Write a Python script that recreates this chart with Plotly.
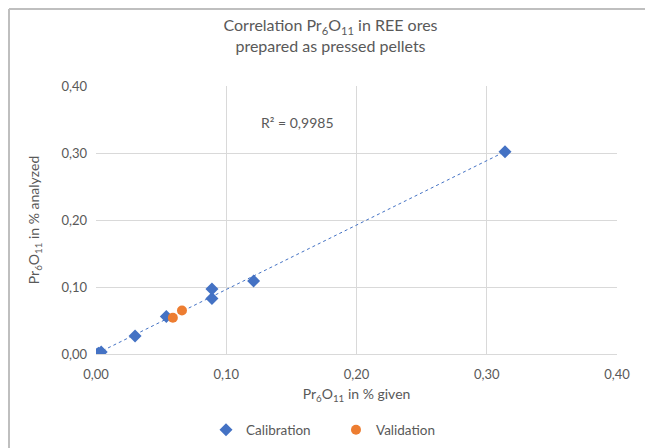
import numpy as np
import plotly.graph_objects as go

cal_x = [0.001, 0.002, 0.004, 0.030, 0.054, 0.089, 0.089, 0.121, 0.314]
cal_y = [0.000, 0.001, 0.003, 0.027, 0.056, 0.083, 0.097, 0.109, 0.302]
val_x = [0.059, 0.066]
val_y = [0.054, 0.065]
ticks = [0.0, 0.1, 0.2, 0.3, 0.4]

slope, intercept = np.polyfit(cal_x, cal_y, 1)
tx = np.array([min(cal_x), max(cal_x)])
ty = slope * tx + intercept

FONT = "Lato"
GREY = "#595959"

fig = go.Figure()
fig.add_trace(go.Scatter(x=tx, y=ty, mode="lines", showlegend=False,
                         line=dict(color="#4472C4", width=1, dash="dot"), hoverinfo="skip"))
fig.add_trace(go.Scatter(x=cal_x, y=cal_y, mode="markers", name="Calibration",
                         marker=dict(symbol="diamond", size=10, color="#4472C4")))
fig.add_trace(go.Scatter(x=val_x, y=val_y, mode="markers", name="Validation",
                         marker=dict(symbol="circle", size=10, color="#ED7D31")))

fig.update_layout(
    width=645, height=440,
    margin=dict(l=88, r=36, t=78, b=94, autoexpand=False),
    paper_bgcolor="white", plot_bgcolor="white",
    font=dict(family=FONT, color=GREY, size=13),
    separators=",.",
    title=dict(text="Correlation Pr<sub>6</sub>O<sub>11</sub> in REE ores<br>prepared as pressed pellets",
               x=0.5, xanchor="center", y=0.947, yanchor="top",
               font=dict(family=FONT, size=16, color=GREY)),
    xaxis=dict(range=[0, 0.4], tickvals=ticks, tickformat=".2f", showgrid=True,
               gridcolor="#d9d9d9", zeroline=False, showline=True, linecolor="#d9d9d9",
               ticks="", ticklabelstandoff=8, tickfont=dict(size=13, color=GREY),
               title=dict(text="Pr<sub>6</sub>O<sub>11</sub> in % given", standoff=8,
                          font=dict(size=14, color=GREY))),
    yaxis=dict(range=[0, 0.4], tickvals=ticks, tickformat=".2f", showgrid=True,
               gridcolor="#d9d9d9", zeroline=False, showline=False,
               ticks="", ticklabelstandoff=8, tickfont=dict(size=13, color=GREY),
               title=dict(text="Pr<sub>6</sub>O<sub>11</sub> in % analyzed", standoff=18,
                          font=dict(size=14, color=GREY))),
    legend=dict(orientation="h", x=0.2111, xanchor="left", y=-0.2836, yanchor="middle",
                font=dict(size=13.5, color=GREY), itemwidth=30, entrywidth=85,
                traceorder="normal"),
    annotations=[dict(x=0.155, y=0.346, xref="x", yref="y", text="R² = 0,9985",
                      showarrow=False, font=dict(size=14, color=GREY))],
    shapes=[
        dict(type="line", xref="paper", yref="paper", x0=-0.167, x1=1.1, y0=1.2873, y1=1.2873,
             line=dict(color="#bfbfbf", width=2)),
        dict(type="line", xref="paper", yref="paper", x0=-0.167, x1=-0.167, y0=1.2873, y1=-0.4,
             line=dict(color="#bfbfbf", width=2)),
    ],
)

fig.write_html("out.html")
